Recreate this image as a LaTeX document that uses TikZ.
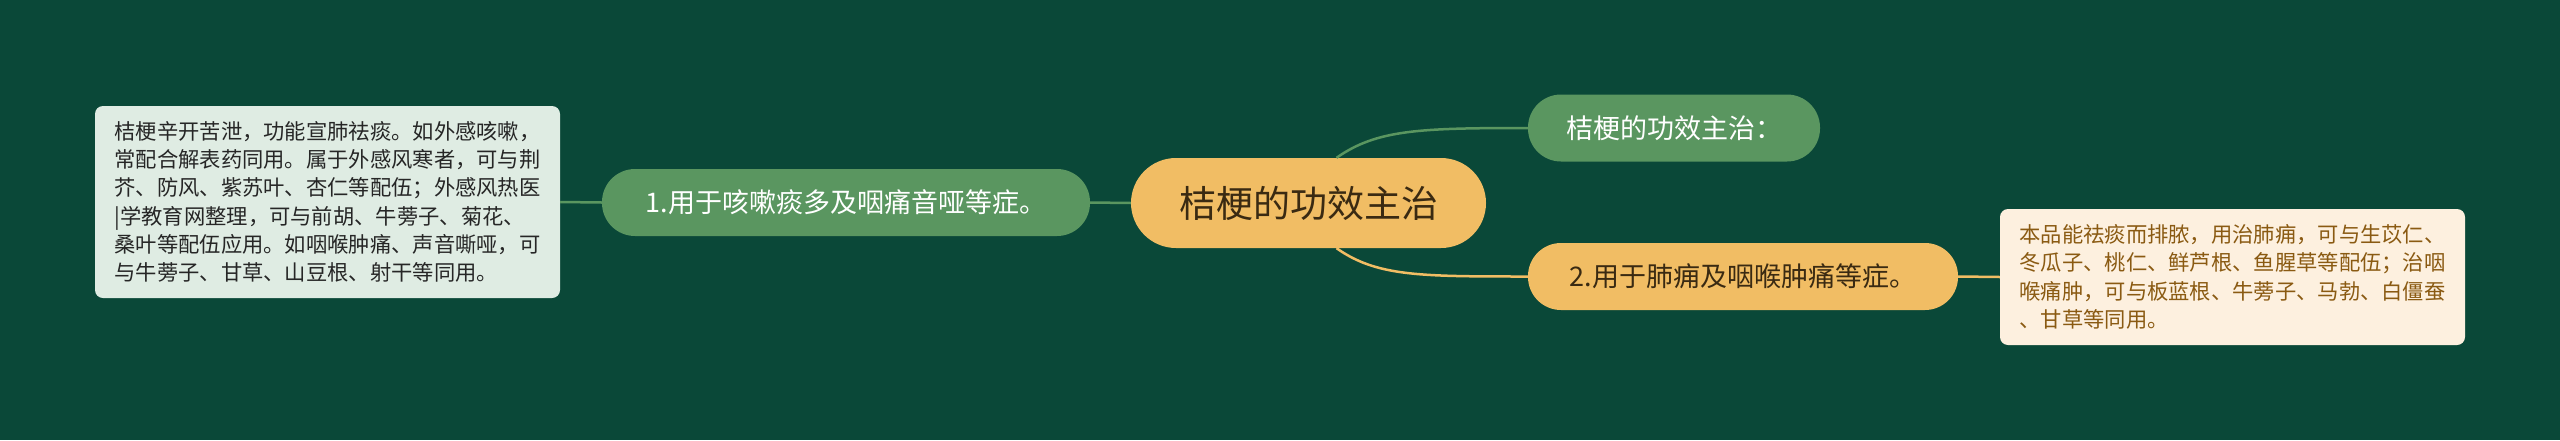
\documentclass[tikz,border=0pt]{standalone}
\usepackage{fontspec}
\setmainfont{Noto Sans CJK SC}
\usetikzlibrary{calc}
\definecolor{bg}{HTML}{0A4838}
\definecolor{gnode}{HTML}{5A9660}
\definecolor{onode}{HTML}{F1BD64}
\definecolor{lbox}{HTML}{DFECE3}
\definecolor{rbox}{HTML}{FDF0DF}
\definecolor{rtext}{HTML}{8A5A12}
\definecolor{dtext}{HTML}{3A2A12}
\definecolor{gline}{HTML}{5A9660}
\definecolor{oline}{HTML}{F1BD64}
\tikzset{
  pill/.style={rounded corners=33pt, inner sep=0pt, align=center},
  rootnode/.style={pill, fill=onode, text=dtext, minimum width=355pt, minimum height=90pt, rounded corners=45pt, font=\fontsize{37}{44}\selectfont},
  greennode/.style={pill, fill=gnode, text=white, minimum height=67pt, font=\fontsize{27}{32}\selectfont},
  orangenode/.style={pill, fill=onode, text=dtext, minimum height=67pt, font=\fontsize{27}{32}\selectfont},
  notebox/.style={rounded corners=8pt, inner sep=0pt, align=left, minimum width=465pt, font=\fontsize{21.3}{28.3}\selectfont},
  gconn/.style={draw=gline, line width=2.5pt},
  oconn/.style={draw=oline, line width=2.5pt}
}
\begin{document}
\begin{tikzpicture}[x=1pt,y=-1pt]
\fill[bg] (0,0) rectangle (2560,440);
\useasboundingbox (0,0) rectangle (2560,440);
\node[rootnode] (root) at (1308.5,203) {桔梗的功效主治};
\node[greennode, minimum width=488pt] (n1) at (846,202.5) {1.用于咳嗽痰多及咽痛音哑等症。};
\node[greennode, minimum width=292pt] (top) at (1674,128) {桔梗的功效主治：};
\node[orangenode, minimum width=430pt] (n2) at (1743,276.5) {2.用于肺痈及咽喉肿痛等症。};
\node[notebox, fill=lbox, text=black!85, minimum height=192pt] (lb) at (327.5,202) {桔梗辛开苦泄，功能宣肺祛痰。如外感咳嗽，\\常配合解表药同用。属于外感风寒者，可与荆\\芥、防风、紫苏叶、杏仁等配伍；外感风热医\\|学教育网整理，可与前胡、牛蒡子、菊花、\\桑叶等配伍应用。如咽喉肿痛、声音嘶哑，可\\与牛蒡子、甘草、山豆根、射干等同用。};
\node[notebox, fill=rbox, text=rtext, minimum height=136pt] (rb) at (2232.5,277) {本品能祛痰而排脓，用治肺痈，可与生苡仁、\\冬瓜子、桃仁、鲜芦根、鱼腥草等配伍；治咽\\喉痛肿，可与板蓝根、牛蒡子、马勃、白僵蚕\\、甘草等同用。};
\coordinate (rt) at ([xshift=28pt]root.north);
\coordinate (rbt) at ([xshift=28pt]root.south);
\path[gconn] (lb.east) -- (n1.west);
\path[gconn] (n1.east) -- (root.west);
\path[gconn] (rt) .. controls ($(rt)+(40,-28)$) and ($(top.west)+(-110,0)$) .. (top.west);
\path[oconn] (rbt) .. controls ($(rbt)+(40,28)$) and ($(n2.west)+(-110,0)$) .. (n2.west);
\path[oconn] (n2.east) -- (rb.west);
\end{tikzpicture}
\end{document}
